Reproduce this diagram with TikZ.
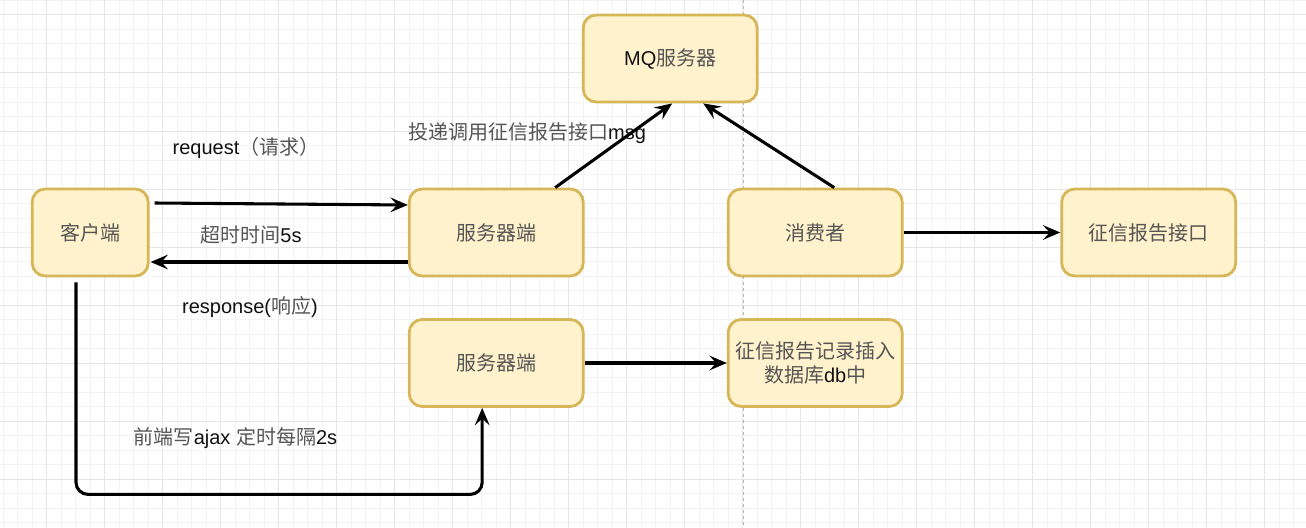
\documentclass[tikz,border=0pt]{standalone}
\usepackage{fontspec}
\setmainfont{Liberation Sans}
\newfontfamily\cjk{Noto Sans CJK SC}
\usetikzlibrary{arrows.meta,calc}
\definecolor{boxfill}{HTML}{FFF2CC}
\definecolor{boxdraw}{HTML}{D6B656}
\definecolor{zhgray}{HTML}{555555}
\definecolor{txt}{HTML}{111111}
\definecolor{minorgrid}{HTML}{F3F3F3}
\definecolor{majorgrid}{HTML}{E6E6E6}
\definecolor{dashgray}{HTML}{B8B8B8}
\newcommand{\zh}[1]{{\cjk\color{zhgray}#1}}
\tikzset{
  boxnode/.style={draw=boxdraw, fill=boxfill, line width=2.1pt, rounded corners=9.75pt,
    minimum height=65.25pt, inner sep=0pt, align=center, text=txt,
    font=\fontsize{15}{17.5}\selectfont},
  narrowbox/.style={boxnode, minimum width=87pt},
  widebox/.style={boxnode, minimum width=130.5pt},
  lbl/.style={inner sep=0pt, text=txt, font=\fontsize{15}{17.5}\selectfont},
  arr/.style={line width=2.3pt, draw=black, -{Stealth[length=13pt,width=11pt,inset=5pt]}},
  minorline/.style={draw=minorgrid, line width=0.75pt},
  majorline/.style={draw=majorgrid, line width=0.75pt},
}
\begin{document}
\begin{tikzpicture}[x=0.75pt,y=-0.75pt]
\useasboundingbox (0,0) rectangle (1306,528);
\fill[white] (0,0) rectangle (1306,528);
% grid
\foreach \i in {0,...,89} {\draw[minorline] ({3.2+14.5*\i},0) -- ++(0,528);}
\foreach \j in {0,...,36} {\draw[minorline] (0,{0.5+14.5*\j}) -- ++(1306,0);}
\foreach \i in {0,...,22} {\draw[majorline] ({46.7+58*\i},0) -- ++(0,528);}
\foreach \j in {0,...,8} {\draw[majorline] (0,{15+58*\j}) -- ++(1306,0);}
% dashed divider
\draw[dashgray, line width=0.75pt, dash pattern=on 2.25pt off 2.25pt] (743,0) -- (743,528);

% boxes
\node[narrowbox] (cli) at (90.2,232.5) {\zh{客户端}};
\node[widebox] (srv) at (496.2,232.5) {\zh{服务器端}};
\node[widebox] (mq) at (670.2,58.5) {MQ\zh{服务器}};
\node[widebox] (con) at (815.2,232.5) {\zh{消费者}};
\node[widebox] (api) at (1148.7,232.5) {\zh{征信报告接口}};
\node[widebox] (srv2) at (496.2,363) {\zh{服务器端}};
\node[widebox] (db) at (815.2,363) {\zh{征信报告记录插入}\\\zh{数据库}db\zh{中}};

% labels
\node[lbl] (lreq) at (246,148) {request\zh{（请求）}};
\node[lbl] (lto) at (251,235) {\zh{超时时间}5s};
\node[lbl] (lresp) at (250,307) {response(\zh{响应})};
\node[lbl] (lmsg) at (527,133) {\zh{投递调用征信报告接口}msg};
\node[lbl] (lajax) at (235.5,438) {\zh{前端写}ajax \zh{定时每隔}2s};

% connectors
\draw[arr] ($(cli.east)+(5,-29.5)$) -- ($(srv.west)+(0,-27.5)$);
\draw[arr] ($(srv.west)+(0,29.5)$) -- ($(cli.east)+(1,29.5)$);
\draw[arr] ($(srv.north)+(59,0)$) -- ($(mq.south)+(2,0)$);
\draw[arr] ($(con.north)+(19,0)$) -- ($(mq.south)+(33,0)$);
\draw[arr] (con.east) -- (api.west);
\draw[arr] (srv2.east) -- (db.west);
\draw[arr, rounded corners=9pt] ($(cli.south)+(-14.2,5)$) -- ++(0,212) -| ($(srv2.south)+(-14,0)$);
\end{tikzpicture}
\end{document}
